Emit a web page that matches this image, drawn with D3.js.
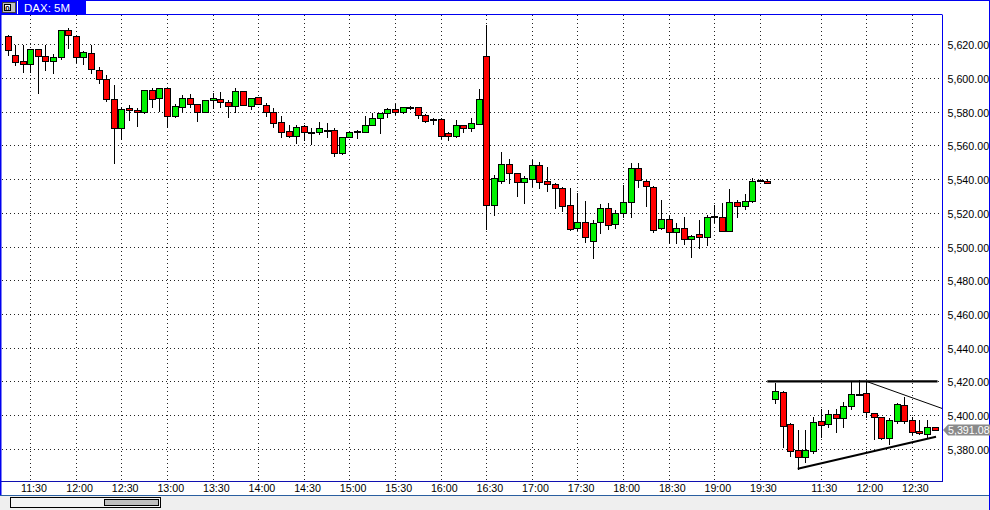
<!DOCTYPE html>
<html><head><meta charset="utf-8">
<script src="https://cdn.jsdelivr.net/npm/d3@7"></script>
<style>
html,body{margin:0;padding:0;background:#fff;overflow:hidden}
svg{display:block;font-family:"Liberation Sans",Arial,sans-serif}
</style></head><body>
<svg id="c" width="990" height="510"></svg>
<script>
// ---- DATA ----
const title = "DAX: 5M";
const opens = [5624.9,5613.6,5610.1,5608.1,5617.0,5612.9,5610.3,5612.3,5628.5,5624.9,
5612.7,5614.8,5604.8,5599.4,5587.3,5570.1,5582.2,5581.0,5580.0,5592.9,
5587.9,5593.9,5577.6,5583.0,5587.9,5584.4,5580.0,5586.7,5587.5,5585.6,
5583.6,5592.1,5583.6,5588.5,5584.0,5580.0,5573.9,5568.5,5565.8,5571.5,
5567.9,5567.8,5569.2,5569.1,5555.3,5565.2,5568.3,5568.2,5572.1,5576.1,
5579.0,5581.4,5580.0,5582.9,5582.6,5577.8,5575.6,5575.5,5567.6,5565.6,
5571.9,5570.5,5572.7,5613.1,5524.9,5539.1,5548.8,5543.4,5538.5,5539.9,
5548.2,5538.9,5537.1,5534.5,5524.6,5510.8,5514.4,5503.3,5514.4,5522.7,
5513.2,5519.7,5526.2,5546.4,5539.1,5535.1,5510.8,5516.1,5508.4,5510.8,
5504.3,5507.4,5505.8,5518.3,5517.7,5509.4,5526.6,5524.2,5527.0,5539.1,
5539.1,
5409.3,5413.7,5394.7,5379.2,5374.9,5378.8,5396.4,5394.5,5400.4,5398.0,
5405.3,5412.4,5412.9,5401.0,5398.6,5386.6,5396.6,5405.9,5397.0,5390.5,
5388.5,5393.0];
const highs = [5625.5,5619.6,5619.6,5617.0,5617.0,5619.6,5614.2,5628.5,5629.7,5624.9,
5616.2,5619.6,5606.7,5601.8,5595.9,5583.0,5584.0,5582.0,5592.9,5593.9,
5594.3,5593.9,5584.4,5589.9,5590.5,5584.4,5586.9,5590.9,5591.9,5586.9,
5593.9,5592.1,5587.9,5588.9,5585.0,5582.0,5577.4,5572.1,5572.1,5572.1,
5570.5,5574.1,5573.5,5570.1,5565.2,5568.5,5569.1,5577.4,5579.0,5579.4,
5582.0,5584.4,5583.0,5583.4,5583.0,5578.4,5576.1,5576.1,5568.2,5575.1,
5572.1,5576.1,5593.3,5631.5,5542.4,5555.9,5551.7,5543.4,5541.9,5551.3,
5550.2,5547.4,5537.9,5535.5,5534.5,5531.6,5527.0,5515.7,5525.2,5525.6,
5521.7,5536.5,5549.4,5549.4,5539.5,5535.9,5527.6,5518.7,5513.8,5517.3,
5506.8,5515.7,5518.7,5524.6,5525.6,5533.9,5527.6,5531.2,5540.5,5539.4,
5539.9,
5418.8,5414.4,5395.1,5391.1,5391.1,5399.0,5403.4,5403.0,5403.4,5407.5,
5419.8,5420.8,5419.8,5401.4,5399.0,5398.0,5407.0,5410.9,5399.0,5397.0,
5397.0,5393.0];
const lows = [5613.9,5607.7,5603.8,5603.8,5591.3,5604.8,5603.2,5611.3,5618.0,5609.7,
5608.3,5603.2,5596.8,5586.4,5549.4,5563.6,5575.1,5571.5,5579.4,5583.0,
5580.4,5571.1,5577.1,5580.0,5582.6,5574.7,5579.8,5582.4,5582.6,5577.1,
5580.0,5583.8,5581.4,5584.4,5577.6,5571.1,5565.2,5564.8,5561.2,5563.2,
5560.8,5566.8,5565.2,5553.9,5554.7,5564.8,5564.6,5568.2,5572.1,5567.2,
5577.1,5578.4,5579.0,5581.4,5576.5,5574.1,5572.7,5564.6,5563.2,5565.2,
5568.2,5568.5,5572.5,5510.2,5518.7,5537.5,5537.9,5530.2,5526.0,5536.1,
5534.5,5533.1,5523.1,5521.3,5509.8,5509.8,5502.9,5493.0,5507.8,5510.2,
5510.8,5517.7,5517.3,5535.1,5524.2,5508.8,5510.2,5502.3,5502.3,5501.5,
5493.6,5499.3,5500.9,5514.8,5509.4,5509.4,5517.7,5522.3,5526.2,5539.0,
5537.5,
5406.9,5381.2,5375.7,5368.0,5372.3,5377.7,5386.8,5392.7,5390.1,5393.1,
5403.4,5412.3,5399.0,5385.6,5385.6,5382.8,5395.1,5395.5,5389.0,5388.5,
5387.2,5391.08];
const closes = [5616.6,5609.7,5608.1,5617.0,5613.3,5610.3,5612.3,5628.5,5625.3,5612.3,
5615.4,5605.2,5599.2,5587.3,5570.1,5581.4,5581.0,5579.6,5592.9,5587.5,
5593.9,5577.6,5583.4,5587.9,5584.4,5580.0,5586.9,5587.9,5586.0,5583.6,
5592.3,5583.8,5587.9,5584.4,5579.6,5573.5,5568.2,5565.8,5570.7,5567.8,
5567.7,5570.1,5569.0,5555.3,5565.2,5567.8,5568.7,5572.1,5576.1,5579.2,
5581.4,5580.0,5582.6,5583.0,5578.0,5574.7,5575.4,5565.6,5565.8,5572.1,
5570.5,5573.1,5587.3,5524.6,5540.5,5548.8,5543.4,5538.5,5540.5,5548.2,
5538.1,5536.9,5534.5,5524.0,5510.2,5514.4,5505.5,5513.8,5522.7,5512.8,
5519.7,5526.2,5546.4,5539.5,5535.9,5509.8,5516.1,5508.4,5510.8,5504.3,
5506.4,5505.8,5517.7,5518.0,5509.4,5526.6,5524.2,5527.2,5539.1,5539.2,
5537.5,
5414.4,5393.7,5378.9,5375.3,5379.2,5395.7,5393.9,5400.4,5398.0,5405.3,
5412.3,5412.6,5401.6,5399.0,5386.2,5397.0,5406.5,5396.6,5389.7,5389.1,
5392.7,5391.08];
const tickBars   = [3,9,15,21,27,33,39,45,51,57,63,69,75,81,87,93,99,107,113,119];
const tickLabels = ["11:30","12:00","12:30","13:00","13:30","14:00","14:30","15:00","15:30","16:00",
                    "16:30","17:00","17:30","18:00","18:30","19:00","19:30","11:30","12:00","12:30"];
const priceTicks = [5380,5400,5420,5440,5460,5480,5500,5520,5540,5560,5580,5600,5620];
const lastPrice = 5391.08;
// trend lines: [barIndex, price]
const resistanceLine = [[100.0,5420],[122.4,5420]];
const fallingLine    = [[113,5420],[123.3,5403.4]];
const supportLine    = [[104,5368.1],[122.2,5387.1]];

// ---- DRAW ----
const svg = d3.select("#c");
const BLUE = "#0000f0";
const plotL = 2, plotR = 942, plotT = 15, plotB = 481;

const x = d3.scaleLinear().domain([0,122]).range([7.5,934.5]);
const y = d3.scaleLinear().domain([5380,5620]).range([448.7,44.3]);

// backgrounds
svg.append("rect").attr("x",0).attr("y",0).attr("width",990).attr("height",510).attr("fill","#fff");
svg.append("rect").attr("x",0).attr("y",495).attr("width",990).attr("height",15).attr("fill","#efefef");

const defs = svg.append("defs");
defs.append("clipPath").attr("id","plotclip").append("rect")
  .attr("x",plotL).attr("y",plotT).attr("width",plotR-plotL).attr("height",plotB-plotT);

// grid
const grid = svg.append("g").attr("clip-path","url(#plotclip)");
grid.selectAll("line.h").data(priceTicks).join("line")
  .attr("x1",plotL).attr("x2",plotR)
  .attr("y1",d=>Math.round(y(d))+0.5).attr("y2",d=>Math.round(y(d))+0.5)
  .attr("stroke","#222").attr("stroke-width",1).attr("stroke-dasharray","1,3");
grid.selectAll("line.v").data(tickBars).join("line")
  .attr("x1",d=>Math.round(x(d))+0.5).attr("x2",d=>Math.round(x(d))+0.5)
  .attr("y1",plotT).attr("y2",plotB)
  .attr("stroke","#222").attr("stroke-width",1).attr("stroke-dasharray","1,3");

// candles
const bars = d3.range(opens.length);
const cg = svg.append("g").attr("clip-path","url(#plotclip)");
const candle = cg.selectAll("g.c").data(bars).join("g");
candle.append("line")
  .attr("x1",i=>Math.round(x(i))+0.5).attr("x2",i=>Math.round(x(i))+0.5)
  .attr("y1",i=>Math.round(y(highs[i]))).attr("y2",i=>Math.round(y(lows[i]))+1)
  .attr("stroke","#000").attr("stroke-width",1);
candle.append("rect")
  .attr("x",i=>Math.round(x(i))-2.5)
  .attr("width",6)
  .attr("y",i=>Math.round(y(Math.max(opens[i],closes[i])))+0.5)
  .attr("height",i=>Math.max(1,Math.round(y(Math.min(opens[i],closes[i])))-Math.round(y(Math.max(opens[i],closes[i])))))
  .attr("fill",i=>closes[i]>=opens[i]?"#00f000":"#ff0000")
  .attr("stroke","#000").attr("stroke-width",1);

// trend lines
const line = d3.line().x(d=>x(d[0])).y(d=>y(d[1]));
const tl = svg.append("g").attr("clip-path","url(#plotclip)");
tl.append("path").attr("d",line(resistanceLine)).attr("stroke","#000").attr("stroke-width",2.2).attr("fill","none");
tl.append("path").attr("d",line(fallingLine)).attr("stroke","#000").attr("stroke-width",1).attr("fill","none");
tl.append("path").attr("d",line(supportLine)).attr("stroke","#000").attr("stroke-width",2).attr("fill","none");

// frame
svg.append("line").attr("x1",0).attr("x2",plotR).attr("y1",14.5).attr("y2",14.5).attr("stroke",BLUE);
svg.append("line").attr("x1",plotR+0.5).attr("x2",plotR+0.5).attr("y1",14.5).attr("y2",plotB).attr("stroke",BLUE);
svg.append("line").attr("x1",0).attr("x2",plotR+1).attr("y1",plotB+0.5).attr("y2",plotB+0.5).attr("stroke","#1010b0");
svg.append("line").attr("x1",0).attr("x2",990).attr("y1",495.5).attr("y2",495.5).attr("stroke","#2a5fa0");
svg.append("line").attr("x1",0.5).attr("x2",0.5).attr("y1",0).attr("y2",495).attr("stroke",BLUE).attr("stroke-width",2);
svg.append("line").attr("x1",989.5).attr("x2",989.5).attr("y1",0).attr("y2",510).attr("stroke",BLUE);
svg.append("line").attr("x1",0).attr("x2",990).attr("y1",0.5).attr("y2",0.5).attr("stroke",BLUE);

// price axis labels
const fmt = d3.format(",.2f");
svg.append("g").selectAll("text").data(priceTicks).join("text")
  .attr("x",947.5).attr("y",d=>y(d)+5)
  .attr("font-size","10.7px").attr("fill","#000")
  .text(d=>fmt(d));

// time labels
svg.append("g").selectAll("text").data(tickBars).join("text")
  .attr("x",(d)=>x(d)+3.7).attr("y",492)
  .attr("text-anchor","middle").attr("font-size","10.7px").attr("fill","#000")
  .text((d,k)=>tickLabels[k]);

// last price tag
const ty = y(lastPrice);
svg.append("path")
  .attr("d",`M943,${ty} L948,${ty-5.5} L990,${ty-5.5} L990,${ty+5.5} L948,${ty+5.5} Z`)
  .attr("fill","#8a8a8a");
svg.append("text").attr("x",948).attr("y",ty+4.2).attr("font-size","10.7px").attr("fill","#fff")
  .text(fmt(lastPrice));

// header
svg.append("rect").attr("x",0).attr("y",0).attr("width",86).attr("height",14.5).attr("fill","#0000ff");
svg.append("rect").attr("x",2.5).attr("y",2.5).attr("width",13).attr("height",10).attr("fill","#c0c0c0").attr("stroke","#404040");
svg.append("rect").attr("x",4.5).attr("y",4.5).attr("width",6).attr("height",6).attr("fill","#fff").attr("stroke","#000");
svg.append("text").attr("x",5.2).attr("y",10.5).attr("font-size","8px").attr("font-weight","bold").attr("fill","#000").text("0");
svg.append("line").attr("x1",17.5).attr("x2",17.5).attr("y1",1).attr("y2",14).attr("stroke","#fff");
svg.append("text").attr("x",24).attr("y",12).attr("font-size","11.5px").attr("fill","#fff").text(title);

// scrollbar
svg.append("rect").attr("x",10.5).attr("y",497.5).attr("width",150).attr("height",10).attr("fill","#f4f4f4").attr("stroke","#000");
svg.append("rect").attr("x",104.5).attr("y",499.5).attr("width",54).attr("height",6).attr("fill","#c0c0c0").attr("stroke","#000");
</script>
</body></html>
